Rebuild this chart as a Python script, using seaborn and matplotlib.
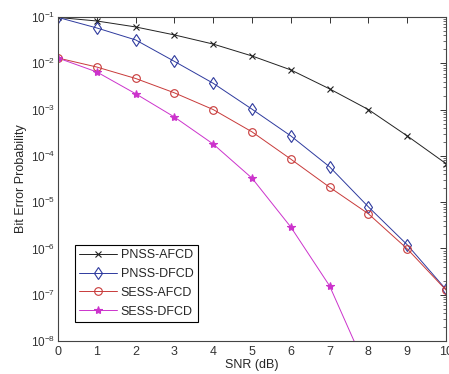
import matplotlib
matplotlib.use("Agg")
import matplotlib.pyplot as plt
import seaborn as sns
import numpy as np
import pandas as pd

# values (log scale, so read by decade)
snr = [0, 1, 2, 3, 4, 5, 6, 7, 8, 9, 10]
pnss_afcd = [0.098, 0.082, 0.061, 0.041, 0.026, 0.0144, 0.0072, 0.0028, 0.001, 2.7e-4, 6.8e-5]
pnss_dfcd = [0.098, 0.058, 0.032, 0.011, 0.0037, 1.02e-3, 2.7e-4, 5.8e-5, 7.9e-6, 1.2e-6, 1.3e-7]
sess_afcd = [0.013, 0.0083, 0.0047, 0.0023, 0.001, 3.3e-4, 8.5e-5, 2.1e-5, 5.6e-6, 9.8e-7, 1.26e-7]
sess_dfcd = [0.013, 0.0065, 0.0022, 6.9e-4, 1.8e-4, 3.3e-5, 2.9e-6, 1.55e-7, 2e-9]
names = ["PNSS-AFCD", "PNSS-DFCD", "SESS-AFCD", "SESS-DFCD"]
colors = ["#222222", "#2e3a9e", "#c83a3a", "#cc33cc"]
markers = ["x", "d", "o", "*"]
msizes = [4, 6, 5.5, 6]

sns.set_style("white")
plt.rcParams['font.family'] = ['Liberation Sans', 'DejaVu Sans']
plt.rcParams['mathtext.default'] = 'regular'
plt.rcParams['xtick.direction'] = 'in'
plt.rcParams['ytick.direction'] = 'in'

fig = plt.figure(figsize=(4.49, 3.74), dpi=100)
ax = fig.add_axes([58 / 449, 1 - 341 / 374, 388 / 449, 324 / 374])

series = [pnss_afcd, pnss_dfcd, sess_afcd, sess_dfcd]
for name, vals, c, m, ms in zip(names, series, colors, markers, msizes):
    df = pd.DataFrame({"snr": snr[:len(vals)], "ber": vals})
    sns.lineplot(data=df, x="snr", y="ber", ax=ax, color=c, marker=m,
                 markersize=ms, markeredgecolor=c,
                 markerfacecolor="none" if m in ("d", "o") else c,
                 markeredgewidth=0.8, linewidth=0.7, label=name)

ax.set_yscale("log")
ax.set_xlim(0, 10)
ax.set_ylim(1e-8, 1e-1)
ax.set_xticks(range(0, 11))
ax.yaxis.set_minor_locator(matplotlib.ticker.LogLocator(base=10, subs=np.arange(2, 10), numticks=100))
ax.yaxis.set_minor_formatter(matplotlib.ticker.NullFormatter())
ax.xaxis.set_minor_locator(matplotlib.ticker.NullLocator())
ax.tick_params(which="both", top=True, right=True, labelsize=9, colors="#333333")
ax.tick_params(axis="y", labelsize=8.5, pad=2)
ax.tick_params(which="major", length=4, width=0.7)
ax.tick_params(which="minor", length=2, width=0.5)
for s in ax.spines.values():
    s.set_color("#444444")
    s.set_linewidth(0.8)

ax.set_xlabel("SNR (dB)", fontsize=9, labelpad=1)
ax.set_ylabel("Bit Error Probability", fontsize=9, labelpad=3)

leg = ax.legend(loc="lower left", bbox_to_anchor=(17 / 388, 19 / 324), borderaxespad=0,
                fontsize=9, fancybox=False, handlelength=3, handletextpad=0.3,
                labelspacing=0.55, borderpad=0.35)
leg.get_frame().set_edgecolor("black")
leg.get_frame().set_linewidth(0.8)
leg.get_frame().set_alpha(1)

fig.savefig("out.png", dpi=100)
